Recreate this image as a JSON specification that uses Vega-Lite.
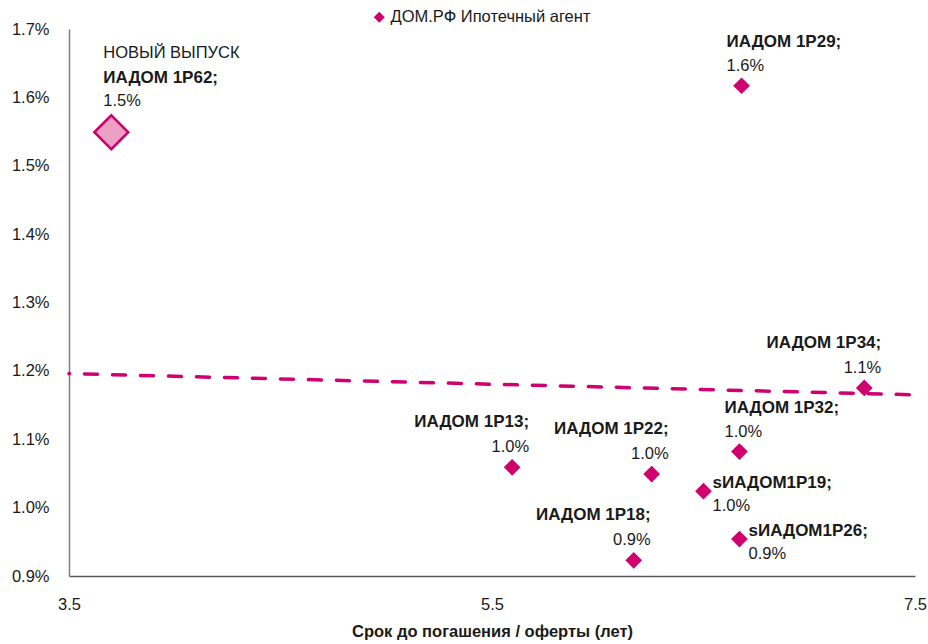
{
  "$schema": "https://vega.github.io/schema/vega-lite/v6.json",
  "width": 846,
  "height": 547,
  "autosize": {"type": "none"},
  "padding": {"left": 69, "top": 29, "right": 13, "bottom": 68},
  "background": "white",
  "config": {
    "view": {"stroke": null},
    "font": "Liberation Sans",
    "text": {"font": "Liberation Sans", "fontSize": 16.5, "color": "#1a1a1a", "baseline": "middle"}
  },
  "data": {
    "values": [
      {"name": "ИАДОМ 1Р62;", "note": "НОВЫЙ ВЫПУСК", "label": "1.5%", "x": 3.70, "y": 0.01549, "kind": "new", "pos": "N"},
      {"name": "ИАДОМ 1Р29;", "label": "1.6%", "x": 6.68, "y": 0.01617, "kind": "issue", "pos": "R", "series": "ДОМ.РФ Ипотечный агент"},
      {"name": "ИАДОМ 1Р34;", "label": "1.1%", "x": 7.26, "y": 0.01175, "kind": "issue", "pos": "L", "series": "ДОМ.РФ Ипотечный агент"},
      {"name": "ИАДОМ 1Р32;", "label": "1.0%", "x": 6.67, "y": 0.01082, "kind": "issue", "pos": "R", "series": "ДОМ.РФ Ипотечный агент"},
      {"name": "ИАДОМ 1Р13;", "label": "1.0%", "x": 5.595, "y": 0.01059, "kind": "issue", "pos": "L", "series": "ДОМ.РФ Ипотечный агент"},
      {"name": "ИАДОМ 1Р22;", "label": "1.0%", "x": 6.255, "y": 0.01049, "kind": "issue", "pos": "L", "series": "ДОМ.РФ Ипотечный агент"},
      {"name": "sИАДОМ1Р19;", "label": "1.0%", "x": 6.50, "y": 0.01024, "kind": "issue", "pos": "S", "series": "ДОМ.РФ Ипотечный агент"},
      {"name": "ИАДОМ 1Р18;", "label": "0.9%", "x": 6.17, "y": 0.00923, "kind": "issue", "pos": "L", "series": "ДОМ.РФ Ипотечный агент"},
      {"name": "sИАДОМ1Р26;", "label": "0.9%", "x": 6.67, "y": 0.00954, "kind": "issue", "pos": "S", "series": "ДОМ.РФ Ипотечный агент"}
    ]
  },
  "encoding": {
    "x": {
      "field": "x",
      "type": "quantitative",
      "scale": {"domain": [3.5, 7.5], "nice": false, "zero": false},
      "axis": {
        "values": [3.5, 5.5, 7.5],
        "format": ".1f",
        "grid": false,
        "ticks": false,
        "labelFlush": false,
        "domainColor": "#595959",
        "domainWidth": 1.5,
        "labelFont": "Liberation Sans",
        "labelFontSize": 16.5,
        "labelColor": "#1a1a1a",
        "labelPadding": 20,
        "title": "Срок до погашения / оферты (лет)",
        "titleFont": "Liberation Sans",
        "titleFontSize": 16.5,
        "titleFontWeight": "bold",
        "titleColor": "#1a1a1a",
        "titlePadding": 11
      }
    },
    "y": {
      "field": "y",
      "type": "quantitative",
      "scale": {"domain": [0.009, 0.017], "nice": false, "zero": false},
      "axis": {
        "values": [0.009, 0.010, 0.011, 0.012, 0.013, 0.014, 0.015, 0.016, 0.017],
        "format": ".1%",
        "grid": false,
        "ticks": false,
        "labelFlush": false,
        "domainColor": "#7f7f7f",
        "domainWidth": 1.5,
        "labelFont": "Liberation Sans",
        "labelFontSize": 16.5,
        "labelColor": "#1a1a1a",
        "labelPadding": 20,
        "title": null
      }
    }
  },
  "layer": [
    {
      "data": {"values": [{"x": 3.5, "y": 0.01196}, {"x": 7.5, "y": 0.01165}]},
      "mark": {"type": "line", "color": "#D0006E", "strokeWidth": 3.5, "strokeCap": "round", "strokeDash": [13, 15], "strokeDashOffset": 12.5},
      "encoding": {}
    },
    {
      "transform": [{"filter": "datum.kind === 'issue'"}],
      "mark": {"type": "point", "shape": "diamond", "filled": true, "size": 280, "opacity": 1},
      "encoding": {
        "color": {
          "field": "series",
          "type": "nominal",
          "scale": {"range": ["#D0006E"]},
          "legend": {
            "orient": "none",
            "legendX": 302,
            "legendY": -20,
            "title": null,
            "symbolType": "diamond",
            "symbolSize": 120,
            "labelFont": "Liberation Sans",
            "labelFontSize": 16.5,
            "labelColor": "#1a1a1a",
            "labelLimit": 0,
            "labelOffset": 3
          }
        }
      }
    },
    {
      "transform": [{"filter": "datum.kind === 'new'"}],
      "mark": {"type": "point", "shape": "diamond", "filled": true, "size": 1150, "fill": "#EBA0C4", "stroke": "#D0006E", "strokeWidth": 2.5, "opacity": 1}
    },
    {
      "transform": [{"filter": "datum.pos === 'L'"}],
      "mark": {"type": "text", "align": "right", "dx": 17, "dy": -45, "fontWeight": "bold", "fontSize": 17},
      "encoding": {"text": {"field": "name"}}
    },
    {
      "transform": [{"filter": "datum.pos === 'L'"}],
      "mark": {"type": "text", "align": "right", "dx": 17, "dy": -20},
      "encoding": {"text": {"field": "label"}}
    },
    {
      "transform": [{"filter": "datum.pos === 'R'"}],
      "mark": {"type": "text", "align": "left", "dx": -15, "dy": -44, "fontWeight": "bold", "fontSize": 17},
      "encoding": {"text": {"field": "name"}}
    },
    {
      "transform": [{"filter": "datum.pos === 'R'"}],
      "mark": {"type": "text", "align": "left", "dx": -15, "dy": -20},
      "encoding": {"text": {"field": "label"}}
    },
    {
      "transform": [{"filter": "datum.pos === 'S'"}],
      "mark": {"type": "text", "align": "left", "dx": 9, "dy": -8, "fontWeight": "bold", "fontSize": 17},
      "encoding": {"text": {"field": "name"}}
    },
    {
      "transform": [{"filter": "datum.pos === 'S'"}],
      "mark": {"type": "text", "align": "left", "dx": 9, "dy": 15},
      "encoding": {"text": {"field": "label"}}
    },
    {
      "transform": [{"filter": "datum.pos === 'N'"}],
      "mark": {"type": "text", "align": "left", "dx": -8, "dy": -79},
      "encoding": {"text": {"field": "note"}}
    },
    {
      "transform": [{"filter": "datum.pos === 'N'"}],
      "mark": {"type": "text", "align": "left", "dx": -8, "dy": -54, "fontWeight": "bold", "fontSize": 17},
      "encoding": {"text": {"field": "name"}}
    },
    {
      "transform": [{"filter": "datum.pos === 'N'"}],
      "mark": {"type": "text", "align": "left", "dx": -8, "dy": -31},
      "encoding": {"text": {"field": "label"}}
    }
  ]
}
